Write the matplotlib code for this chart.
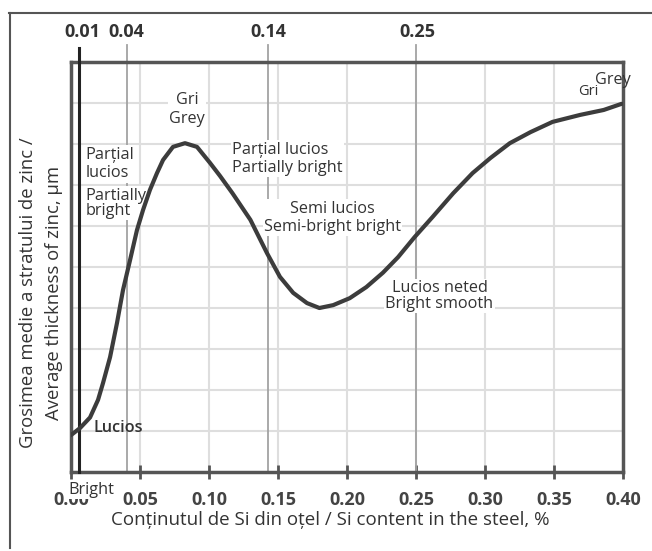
#!/usr/bin/env python3
"""
Zinc coating thickness vs. Si content in steel (Sandelin curve).
"""

import matplotlib
matplotlib.use('Agg')
import matplotlib.pyplot as plt
from matplotlib.lines import Line2D

# Curve (x = Si %, y = grid units 0..10)
si_content = [0.000, 0.0065, 0.0138, 0.0196, 0.0232, 0.0283, 0.0333, 0.0377, 0.0428, 0.0478,
              0.0522, 0.0572, 0.0623, 0.0667, 0.0739, 0.0826, 0.0913, 0.1007, 0.108, 0.117,
              0.130, 0.142, 0.1514, 0.161, 0.171, 0.180, 0.190, 0.202, 0.214, 0.226,
              0.237, 0.249, 0.262, 0.277, 0.291, 0.304, 0.318, 0.333, 0.349, 0.369,
              0.386, 0.399]
thickness = [0.90, 1.07, 1.33, 1.76, 2.17, 2.80, 3.63, 4.44, 5.17, 5.90,
             6.39, 6.88, 7.29, 7.61, 7.93, 8.02, 7.93, 7.54, 7.22, 6.80,
             6.15, 5.34, 4.76, 4.37, 4.12, 4.00, 4.07, 4.24, 4.51, 4.86,
             5.24, 5.73, 6.22, 6.80, 7.29, 7.66, 8.02, 8.29, 8.54, 8.71,
             8.83, 8.98]

x_ticks = [0.00, 0.05, 0.10, 0.15, 0.20, 0.25, 0.30, 0.35, 0.40]
x_tick_labels = ['0.00', '0.05', '0.10', '0.15', '0.20', '0.25', '0.30', '0.35', '0.40']
top_marks = [0.0085, 0.040, 0.143, 0.251]
top_labels = ['0.01', '0.04', '0.14', '0.25']
marker_lines = [0.0405, 0.143, 0.250]   # grey reference lines
boundary_line = 0.006                   # black line at 0.01 %

FONT = ['Open Sans', 'DejaVu Sans']
TXT = '#333333'
plt.rcParams['font.family'] = FONT

fig = plt.figure(figsize=(6.52, 5.51), dpi=100)
ax = fig.add_axes([71/652, 1 - 472/551, 552/652, 410/551])

ax.set_xlim(0, 0.40)
ax.set_ylim(0, 10)

# light grid
for gx in x_ticks[1:-1]:
    ax.axvline(gx, color='#dedede', lw=1.5, zorder=1)
for gy in range(1, 10):
    ax.axhline(gy, color='#dedede', lw=1.5, zorder=1)

# darker reference lines reaching above the frame
for mx in marker_lines:
    ax.plot([mx, mx], [0, 10.42], color='#a2a2a2', lw=1.3, zorder=2, clip_on=False)
ax.plot([boundary_line, boundary_line], [0, 10.35], color='#222222', lw=2.2,
        zorder=4, clip_on=False)

# curve (drawn over the label boxes, as in the source figure)
ax.plot(si_content, thickness, color='#3c3c3c', lw=3, zorder=8,
        solid_capstyle='round', solid_joinstyle='round')

# spines / ticks
for s in ax.spines.values():
    s.set_color('#555555')
    s.set_linewidth(2.5)
ax.set_xticks(x_ticks)
ax.set_xticklabels(x_tick_labels, fontweight='bold', fontsize=13, color='#444444')
ax.tick_params(axis='x', direction='inout', length=10, width=2, color='#555555', pad=9)
ax.set_yticks([])

# top labels
for mx, lab in zip(top_marks, top_labels):
    ax.text(mx, 10.73, lab, ha='center', va='center', fontsize=13,
            fontweight='bold', color='#333333')

# annotations
box = dict(facecolor='white', edgecolor='none', pad=1)
fs = 11.7
ax.text(0.084, 8.83, 'Gri\nGrey', ha='center', va='center', fontsize=fs,
        color=TXT, linespacing=1.25, bbox=box, zorder=6)
ax.text(0.0105, 7.51, 'Parțial\nlucios', ha='left', va='center',
        fontsize=fs, color=TXT, linespacing=1.2, bbox=box, zorder=6)
ax.text(0.0105, 6.55, 'Partially\nbright', ha='left', va='center',
        fontsize=fs, color=TXT, linespacing=0.92, bbox=box, zorder=6)
ax.text(0.1167, 7.64, 'Parțial lucios\nPartially bright', ha='left', va='center',
        fontsize=fs, color=TXT, linespacing=1.15, bbox=box, zorder=6)
ax.text(0.1895, 6.2, 'Semi lucios\nSemi-bright bright', ha='center', va='center',
        fontsize=fs, color=TXT, linespacing=1.15, bbox=box, zorder=6)
ax.text(0.267, 4.29, 'Lucios neted\nBright smooth', ha='center', va='center',
        fontsize=fs, color=TXT, linespacing=0.95, bbox=box, zorder=6)
ax.text(0.3746, 9.27, 'Gri', ha='center', va='center', fontsize=10.5,
        color=TXT, zorder=6)
ax.text(0.3928, 9.56, 'Grey', ha='center', va='center', fontsize=fs,
        color=TXT, zorder=6)
ax.text(0.016, 1.07, 'Lucios', ha='left', va='center', fontsize=fs,
        fontweight='semibold', color=TXT, zorder=6)
ax.text(0.0145, -0.44, 'Bright', ha='center', va='center', fontsize=fs,
        color=TXT, zorder=7, clip_on=False,
        bbox=dict(facecolor='white', edgecolor='none', pad=0.3))

# axis titles
fig.text(330/652, 1 - 520/551, 'Conținutul de Si din oțel / Si content in the steel, %',
         ha='center', va='center', fontsize=13.5, color=TXT)
fig.text(28/652, 1 - 293/551, 'Grosimea medie a stratului de zinc /',
         ha='center', va='center', rotation=90, fontsize=13.3, color=TXT)
fig.text(54/652, 1 - 293/551, 'Average thickness of zinc, µm',
         ha='center', va='center', rotation=90, fontsize=13.3, color=TXT)

# outer frame
fig.add_artist(Line2D([9/652, 1], [1 - 13/551, 1 - 13/551], color='#555555', lw=1.5))
fig.add_artist(Line2D([10/652, 10/652], [1 - 13/551, 1 - 548/551], color='#555555', lw=1.5))

fig.savefig('out.png', dpi=100)
